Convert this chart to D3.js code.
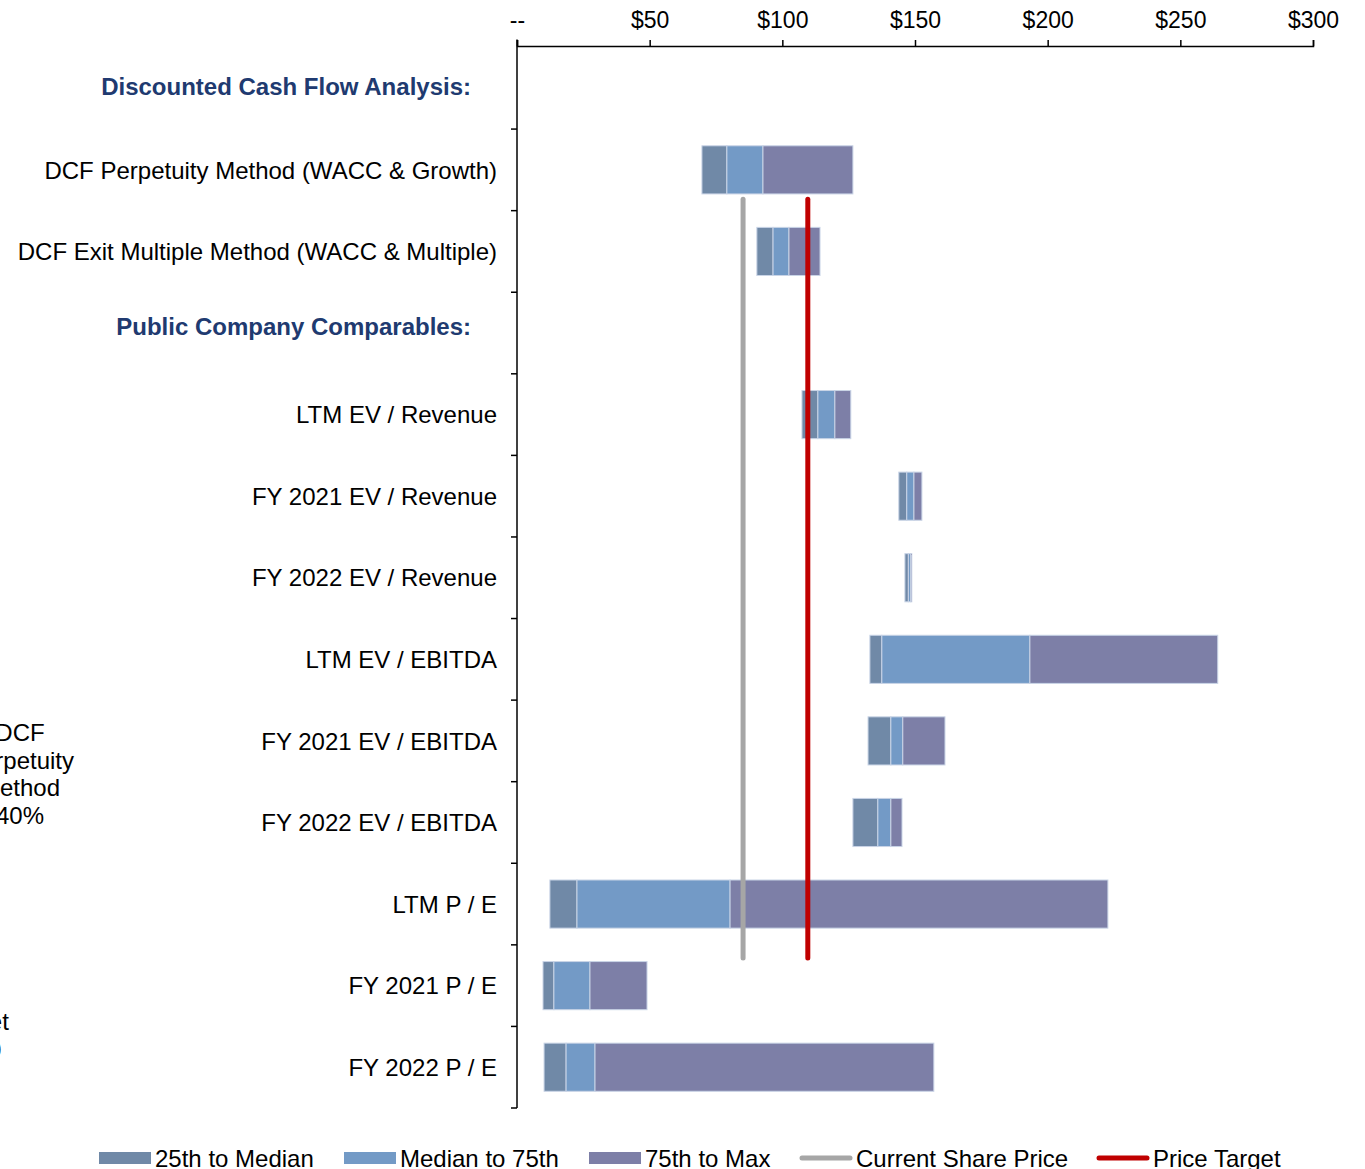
<!DOCTYPE html>
<html>
<head>
<meta charset="utf-8">
<script src="https://cdn.jsdelivr.net/npm/d3@7"></script>
<style>
  html, body { margin: 0; padding: 0; background: #fff; }
  svg { display: block; font-family: "Liberation Sans", Arial, sans-serif; }
</style>
</head>
<body>
<svg id="chart" width="1365" height="1169"></svg>
<script>
// Football-field valuation summary: per-method price ranges (USD per share)
const rows = [
  "Discounted Cash Flow Analysis:",
  "DCF Perpetuity Method (WACC & Growth)",
  "DCF Exit Multiple Method (WACC & Multiple)",
  "Public Company Comparables:",
  "LTM EV / Revenue",
  "FY 2021 EV / Revenue",
  "FY 2022 EV / Revenue",
  "LTM EV / EBITDA",
  "FY 2021 EV / EBITDA",
  "FY 2022 EV / EBITDA",
  "LTM P / E",
  "FY 2021 P / E",
  "FY 2022 P / E"
];
const headerRows = ["Discounted Cash Flow Analysis:", "Public Company Comparables:"];

// Range endpoints per method (null for section headers)
const p25    = [null, 69.7, 90.4, null, 107.4, 143.9, 146.2, 133.0, 132.3, 126.6, 12.4,  9.8,  10.2];
const median = [null, 79.1, 96.5, null, 113.4, 146.9, 147.5, 137.5, 140.9, 136.0, 22.6, 13.9,  18.5];
const p75    = [null, 92.7, 102.5, null, 119.8, 149.6, 148.4, 193.3, 145.4, 140.9, 80.3, 27.5, 29.4];
const maxVal = [null, 126.6, 114.2, null, 125.8, 152.6, 148.8, 264.1, 161.3, 145.1, 222.7, 49.0, 157.1];

const segmentNames = ["25th to Median", "Median to 75th", "75th to Max"];
const segmentColors = ["#7089a7", "#739ac6", "#7d7fa7"];

const currentPrice = 85.2;
const priceTarget = 109.6;
// Vertical extent of the reference lines, in row units (0 = top of first row)
const refLineRows = [1.86, 11.16];

const tickValues = [0, 50, 100, 150, 200, 250, 300];
const tickLabels = ["--", "$50", "$100", "$150", "$200", "$250", "$300"];

const svg = d3.select("#chart");
const W = 1365, H = 1169;
const margin = { top: 47.5, left: 517, right: 52, bottom: 61 };
const FONT = 24;

const x = d3.scaleLinear().domain([0, 300]).range([margin.left, W - margin.right]);
const y = d3.scaleBand().domain(rows).range([margin.top, H - margin.bottom]).paddingInner(0.41).paddingOuter(0.205);
const yRow = d3.scaleLinear().domain([0, rows.length]).range([margin.top, H - margin.bottom]);

// Top price axis
const xAxis = d3.axisTop(x).tickValues(tickValues).tickFormat((d, i) => tickLabels[i]).tickSizeInner(6).tickSizeOuter(6).tickPadding(12);
const gx = svg.append("g").attr("transform", `translate(0,${margin.top - 1.5})`).call(xAxis);
gx.select(".domain").attr("stroke", "#000").attr("stroke-width", 1.5);
gx.selectAll(".tick line").attr("stroke", "#000").attr("stroke-width", 1.5);
gx.selectAll(".tick text").attr("font-size", 23).attr("fill", "#000").attr("font-family", "Liberation Sans, Arial, sans-serif");

// Left category axis with ticks at row boundaries
const boundaries = d3.range(1, rows.length + 1).map(i => yRow(i));
svg.append("line")
  .attr("x1", margin.left).attr("x2", margin.left)
  .attr("y1", margin.top - 8).attr("y2", yRow(rows.length))
  .attr("stroke", "#000").attr("stroke-width", 1.5);
svg.append("g").selectAll("line").data(boundaries).join("line")
  .attr("x1", margin.left - 6).attr("x2", margin.left)
  .attr("y1", d => d).attr("y2", d => d)
  .attr("stroke", "#000").attr("stroke-width", 1.5);

// Category labels (section headers sit slightly higher and further left)
const headerShift = { "Discounted Cash Flow Analysis:": -2, "Public Company Comparables:": -7 };
svg.append("g").selectAll("text").data(rows).join("text")
  .attr("x", d => headerRows.includes(d) ? margin.left - 46 : margin.left - 20)
  .attr("y", d => y(d) + y.bandwidth() / 2 + (headerShift[d] || 0))
  .attr("dy", "0.36em")
  .attr("text-anchor", "end")
  .attr("font-size", FONT)
  .attr("font-weight", d => headerRows.includes(d) ? "bold" : "normal")
  .attr("fill", d => headerRows.includes(d) ? "#203a70" : "#000")
  .text(d => d);

// Stacked range segments
const segs = [];
rows.forEach((r, i) => {
  if (p25[i] == null) return;
  const bounds = [p25[i], median[i], p75[i], maxVal[i]];
  for (let k = 0; k < 3; k++) {
    segs.push({ row: r, k, x0: bounds[k], x1: bounds[k + 1] });
  }
});
svg.append("g").selectAll("rect").data(segs).join("rect")
  .attr("x", d => x(d.x0))
  .attr("width", d => Math.max(0, x(d.x1) - x(d.x0)))
  .attr("y", d => y(d.row))
  .attr("height", y.bandwidth())
  .attr("fill", d => segmentColors[d.k])
  .attr("stroke", "#c9d4e6")
  .attr("stroke-width", 1);

// Current share price and price target lines
const refLines = [
  { v: currentPrice, color: "#a6a6a6" },
  { v: priceTarget, color: "#c00000" }
];
svg.append("g").selectAll("line").data(refLines).join("line")
  .attr("x1", d => x(d.v)).attr("x2", d => x(d.v))
  .attr("y1", yRow(refLineRows[0])).attr("y2", yRow(refLineRows[1]))
  .attr("stroke", d => d.color)
  .attr("stroke-width", 5)
  .attr("stroke-linecap", "round");

// Data-label notes sitting partly off the left edge
const notes = [
  { lines: ["DCF", "Perpetuity", "Method", "40%"], cx: 20, y0: 741 },
  { lines: ["Target", "$110"], cx: -24.5, y0: 1030 }
];
notes.forEach(n => {
  const t = svg.append("text").attr("text-anchor", "middle").attr("font-size", FONT).attr("fill", "#000");
  n.lines.forEach((l, i) => t.append("tspan").attr("x", n.cx).attr("y", n.y0 + i * 27.5).text(l));
});

// Legend
const legendItems = [
  { label: segmentNames[0], type: "rect", color: segmentColors[0], x: 99 },
  { label: segmentNames[1], type: "rect", color: segmentColors[1], x: 344 },
  { label: segmentNames[2], type: "rect", color: segmentColors[2], x: 589 },
  { label: "Current Share Price", type: "line", color: "#a6a6a6", x: 800 },
  { label: "Price Target", type: "line", color: "#c00000", x: 1097 }
];
const ly = 1158;
const lg = svg.append("g").selectAll("g").data(legendItems).join("g")
  .attr("transform", d => `translate(${d.x},${ly})`);
lg.filter(d => d.type === "rect").append("rect")
  .attr("x", 0).attr("y", -6).attr("width", 52).attr("height", 12)
  .attr("fill", d => d.color);
lg.filter(d => d.type === "line").append("line")
  .attr("x1", 2).attr("x2", 50).attr("y1", 0).attr("y2", 0)
  .attr("stroke", d => d.color).attr("stroke-width", 5).attr("stroke-linecap", "round");
lg.append("text")
  .attr("x", 56).attr("y", 0).attr("dy", "0.36em")
  .attr("font-size", FONT).attr("fill", "#000")
  .text(d => d.label);
</script>
</body>
</html>
